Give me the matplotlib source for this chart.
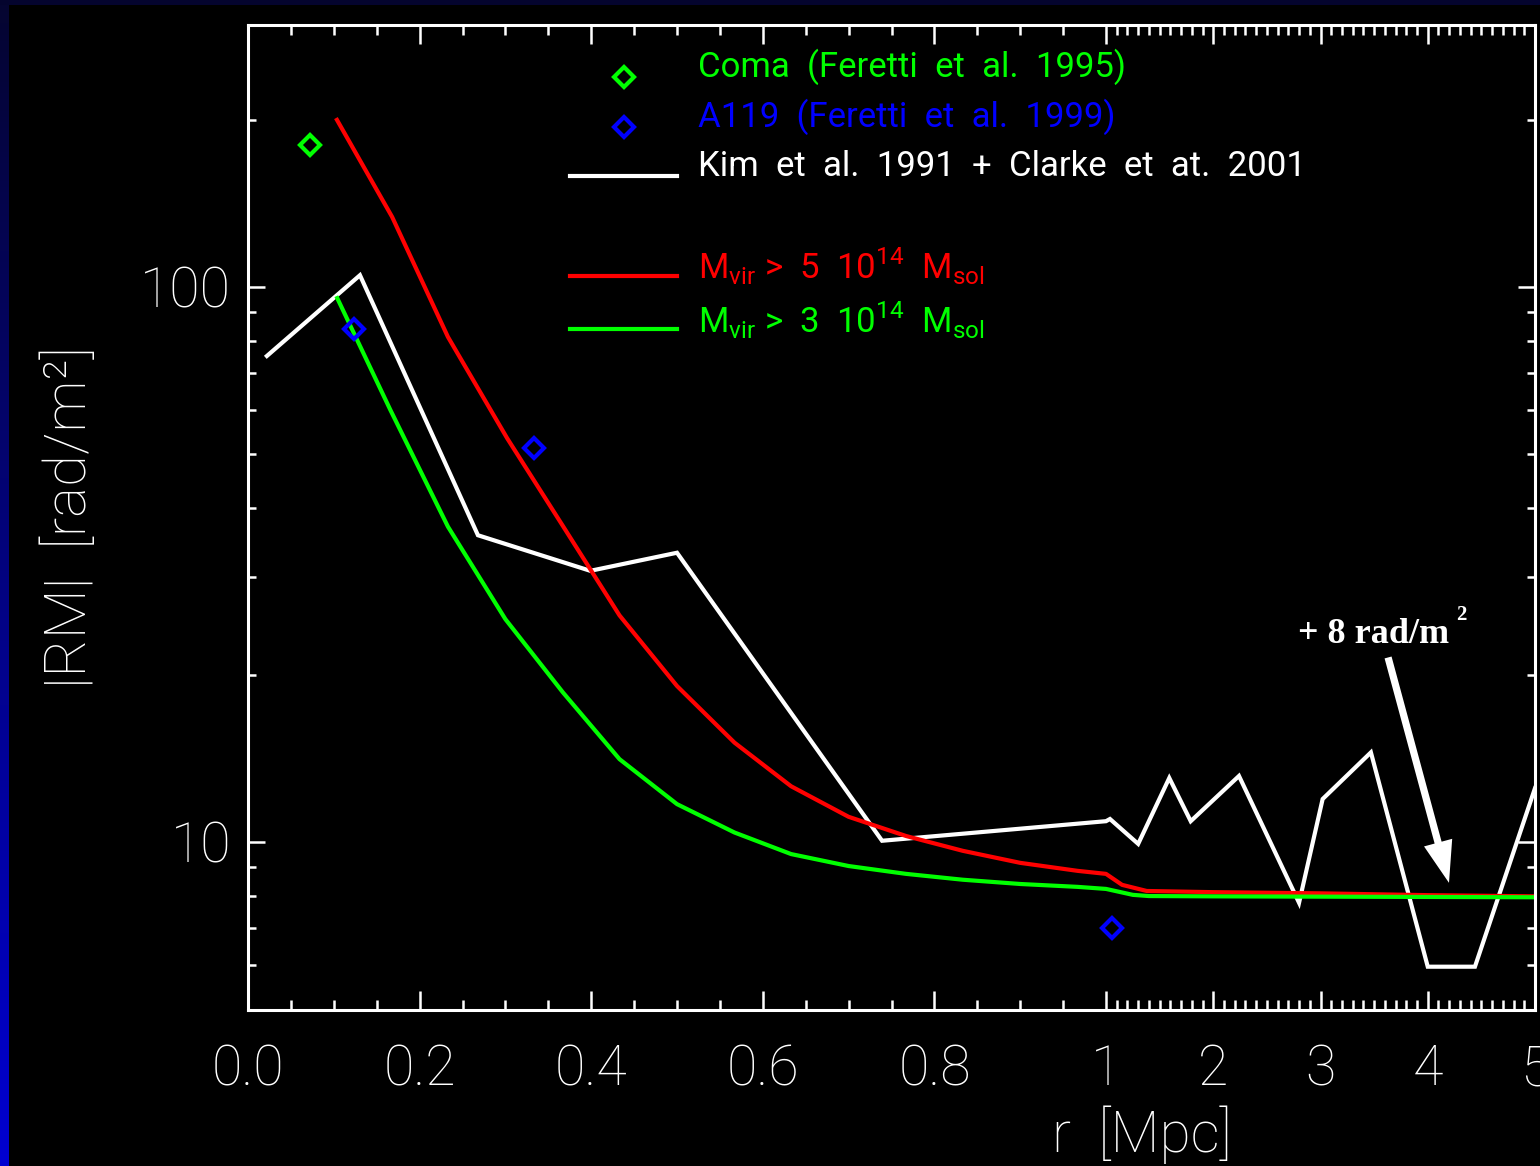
import numpy as np
import matplotlib
matplotlib.use('Agg')
import matplotlib.pyplot as plt
from matplotlib.ticker import FixedLocator, NullFormatter, FixedFormatter

plt.rcParams['font.family'] = ['Roboto', 'DejaVu Sans']
plt.rcParams['font.weight'] = 'light'
plt.rcParams['mathtext.fontset'] = 'custom'
plt.rcParams['mathtext.rm'] = 'Roboto:weight=regular'

# observed profile (Kim et al. 1991 + Clarke et al. 2001)
r_obs = [0.022, 0.1305, 0.268, 0.399, 0.50, 0.739, 1.0, 1.037, 1.30, 1.59, 1.79,
         2.24, 2.80, 3.02, 3.47, 4.00, 4.44, 5.0]
rm_obs = [75.1, 105, 35.7, 30.8, 33.2, 10.05, 10.9, 11.0, 9.92, 13.04, 10.9,
          13.15, 7.77, 11.95, 14.5, 5.96, 5.96, 12.5]

# simulated clusters, M_vir > 5e14
r_hi = [0.1037, 0.168, 0.233, 0.302, 0.367, 0.433, 0.5, 0.567, 0.633, 0.7, 0.767,
        0.833, 0.9, 0.967, 1.0, 1.15, 1.38, 2.0, 3.0, 4.0, 5.0]
rm_hi = [200, 133.7, 81.3, 53.4, 37.1, 25.6, 19.1, 15.1, 12.6, 11.1, 10.25,
         9.64, 9.17, 8.87, 8.76, 8.37, 8.16, 8.12, 8.08, 8.02, 7.98]

# simulated clusters, M_vir > 3e14
r_lo = [0.104, 0.166, 0.233, 0.3, 0.367, 0.433, 0.5, 0.567, 0.633, 0.7, 0.767,
        0.833, 0.9, 0.967, 1.0, 1.25, 1.4, 2.0, 3.0, 4.0, 5.0]
rm_lo = [95.5, 60.0, 37.0, 25.2, 18.6, 14.1, 11.7, 10.4, 9.51, 9.05, 8.76,
         8.55, 8.40, 8.30, 8.23, 8.03, 7.99, 7.98, 7.97, 7.96, 7.95]

coma_r = [0.0723]
coma_rm = [180]
a119_r = [0.1235, 0.3333, 1.056]
a119_rm = [84.0, 51.3, 7.0]

xticks = [0, 0.2, 0.4, 0.6, 0.8, 1, 2, 3, 4, 5]
xticklabels = ['0.0', '0.2', '0.4', '0.6', '0.8', '1', '2', '3', '4', '5']
yticks = [10, 100]
yticklabels = ['10', '100']

W, H = 1540, 1166
GREEN = '#00ff00'
BLUE = '#0000ff'
RED = '#ff0000'


def fwd(r):
    r = np.asarray(r, dtype=float)
    return np.where(r <= 1, r, 1 + (r - 1) / 8.0)


def inv(u):
    u = np.asarray(u, dtype=float)
    return np.where(u <= 1, u, 1 + (u - 1) * 8.0)


def fx(px):
    return px / W


def fy(py):
    return 1 - py / H


fig = plt.figure(figsize=(W / 100, H / 100), dpi=100, facecolor='black')

# blue slide border
grad = fig.add_axes([0, 0, 9 / W, 1])
cols = np.linspace([0.02, 0.02, 0.19], [0.0, 0.0, 0.82], 200)[:, None, :]
grad.imshow(cols, aspect='auto', extent=[0, 1, 1, 0])
grad.axis('off')
top = fig.add_axes([0, 1 - 5 / H, 1, 5 / H])
top.set_facecolor('#04042e')
top.set_xticks([]); top.set_yticks([])
for s in top.spines.values():
    s.set_visible(False)

ax = fig.add_axes([fx(248), fy(1010), (1535 - 248) / W, (1010 - 25) / H])
ax.set_facecolor('black')
ax.set_xscale('function', functions=(fwd, inv))
ax.set_yscale('log')
ax.set_xlim(0, 5)
ax.set_ylim(4.98, 296.5)

ax.plot(r_obs, rm_obs, color='white', lw=3, solid_joinstyle='miter')
ax.plot(r_hi, rm_hi, color=RED, lw=3)
ax.plot(r_lo, rm_lo, color=GREEN, lw=3)
ax.plot(coma_r, coma_rm, 'D', ms=10, mfc='none', mec=GREEN, mew=3)
ax.plot(a119_r, a119_rm, 'D', ms=10, mfc='none', mec=BLUE, mew=3)

# ticks
ax.xaxis.set_major_locator(FixedLocator(xticks))
ax.xaxis.set_major_formatter(FixedFormatter(xticklabels))
minor_x = [v for v in np.round(np.arange(0.05, 1.0, 0.05), 2) if abs(v / 0.2 - round(v / 0.2)) > 1e-6]
minor_x += [v for v in np.round(np.arange(1.1, 5.0, 0.1), 2) if abs(v - round(v)) > 1e-6]
ax.xaxis.set_minor_locator(FixedLocator(minor_x))
ax.xaxis.set_minor_formatter(NullFormatter())
ax.yaxis.set_major_locator(FixedLocator(yticks))
ax.yaxis.set_major_formatter(FixedFormatter(yticklabels))
minor_y = [6, 7, 8, 9, 20, 30, 40, 50, 60, 70, 80, 90, 200]
ax.yaxis.set_minor_locator(FixedLocator(minor_y))
ax.yaxis.set_minor_formatter(NullFormatter())

ax.tick_params(axis='x', which='major', direction='in', length=14, width=1.8,
               top=True, colors='white', labelsize=40, pad=24)
ax.tick_params(axis='x', which='minor', direction='in', length=7, width=1.8, top=True, colors='white')
ax.tick_params(axis='y', which='major', direction='in', length=12, width=1.8,
               right=True, colors='white', labelsize=40, pad=12)
ax.tick_params(axis='y', which='minor', direction='in', length=6, width=1.8, right=True, colors='white')
for s in ax.spines.values():
    s.set_color('white')
    s.set_linewidth(2.2)

fig.text(fx(1142), fy(1135), 'r  [Mpc]', color='white', fontsize=41, ha='center', va='center')
fig.text(fx(70), fy(517), '|RM|  [rad/m\u00b2]', color='white', fontsize=42,
         ha='center', va='center', rotation=90)

# legend
def axp(px, py):
    return ((px - 248) / 1287, (1010 - py) / 985)

for py, c in [(77, GREEN), (127, BLUE)]:
    x0, y0 = axp(624, py)
    ax.plot([x0], [y0], 'D', ms=10, mfc='none', mec=c, mew=3, transform=ax.transAxes, clip_on=False)
for py, c in [(176, 'white'), (276, RED), (329, GREEN)]:
    x0, y0 = axp(570, py)
    x1, _ = axp(677, py)
    ax.plot([x0, x1], [y0, y0], color=c, lw=3, transform=ax.transAxes, clip_on=False)

legend_texts = [
    (67, 'Coma  (Feretti  et  al.  1995)', GREEN),
    (117, 'A119  (Feretti  et  al.  1999)', BLUE),
    (166, 'Kim  et  al.  1991  +  Clarke  et  at.  2001', 'white'),
    (266, r'M$_{\rm vir}$ >  5  10$^{14}$  M$_{\rm sol}$', RED),
    (320, r'M$_{\rm vir}$ >  3  10$^{14}$  M$_{\rm sol}$', GREEN),
]
for py, txt, c in legend_texts:
    fig.text(fx(698), fy(py), txt, color=c, fontsize=25, fontweight='normal',
             ha='left', va='center')

# offset annotation
ax.annotate('', xy=(4.198, 8.44), xytext=(3.63, 21.5),
            arrowprops=dict(arrowstyle='simple,head_length=1.5,head_width=1.05,tail_width=0.26',
                            mutation_scale=20, fc='white', ec='none', shrinkA=0, shrinkB=0))
fig.text(fx(1298), fy(643), '+ 8 rad/m', color='white', fontsize=26, fontweight='bold',
         family='Liberation Serif', ha='left', va='baseline')
fig.text(fx(1461), fy(615), '2', color='white', fontsize=15, fontweight='bold',
         family='Liberation Serif', ha='center', va='center')

fig.savefig('out.png', dpi=100, facecolor='black')
